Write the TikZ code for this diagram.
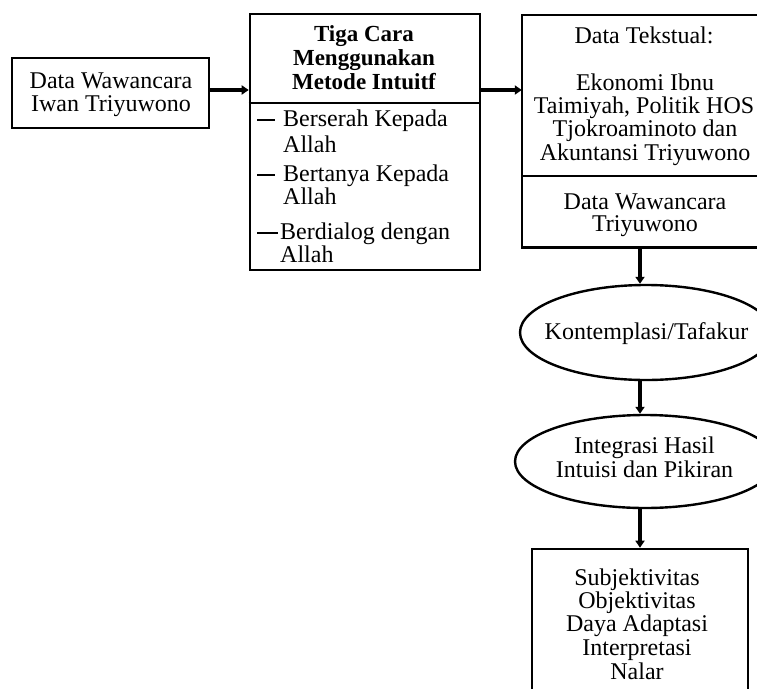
\documentclass[tikz,border=0pt]{standalone}
\usepackage{fontspec}
\setmainfont{Liberation Serif}
\usetikzlibrary{shapes.geometric,arrows.meta}
\begin{document}
\begin{tikzpicture}[x=1pt,y=-1pt,
  box/.style={draw, line width=2.6pt, inner sep=0pt},
  frame/.style={inner sep=0pt},
  oval/.style={draw, ellipse, line width=2.4pt, inner sep=0pt},
  rule/.style={line width=2.6pt},
  arr/.style={line width=3.2pt, -{Triangle[length=7pt,width=9pt]}},
  dashmark/.style={line width=1.8pt},
  ln/.style={font=\fontsize{24}{24}\selectfont, inner sep=0pt, anchor=base},
  lnl/.style={font=\fontsize{24}{24}\selectfont, inner sep=0pt, anchor=base west},
  lnb/.style={font=\fontsize{23}{23}\selectfont\bfseries, inner sep=0pt, anchor=base}]
\useasboundingbox (0,0) rectangle (757,688);
\clip (0,0) rectangle (757,688);

% left box
\node[box, minimum width=197pt, minimum height=70pt] (wi) at (110.5,93) {};
\node[ln] (wi1) at (111,88.5) {Data Wawancara};
\node[ln] (wi2) at (111,111) {Iwan Triyuwono};

% middle box
\node[box, minimum width=230pt, minimum height=256pt] (tc) at (365,142) {};
\draw[rule] (tc.west |- 0,103) -- (tc.east |- 0,103);
\node[lnb] (t1) at (364,41) {Tiga Cara};
\node[lnb] (t2) at (364,65) {Menggunakan};
\node[lnb] (t3) at (364,89) {Metode Intuitf};
\draw[dashmark] (257,120) -- (275,120);
\node[lnl] (i1a) at (283,126) {Berserah Kepada};
\node[lnl] (i1b) at (283,152) {Allah};
\draw[dashmark] (257,175) -- (275,175);
\node[lnl] (i2a) at (283,181) {Bertanya Kepada};
\node[lnl] (i2b) at (283,204.5) {Allah};
\draw[dashmark] (257,233) -- (278,233);
\node[lnl] (i3a) at (280,239) {Berdialog dengan};
\node[lnl] (i3b) at (280,262.5) {Allah};

% right box (its right side lies beyond the picture)
\node[frame, minimum width=244pt, minimum height=232pt] (rb) at (644,131) {};
\draw[rule] (rb.north east) -- (rb.north west) -- (rb.south west) -- (rb.south east);
\draw[rule] (rb.west |- 0,176) -- (rb.east |- 0,176);
\node[ln] (r1) at (644,43) {Data Tekstual:};
\node[ln] (r2) at (645,90) {Ekonomi Ibnu};
\node[ln] (r3) at (644,113) {Taimiyah, Politik HOS};
\node[ln] (r4) at (645,136.5) {Tjokroaminoto dan};
\node[ln] (r5) at (645,160) {Akuntansi Triyuwono};
\node[ln] (r6) at (645,209) {Data Wawancara};
\node[ln] (r7) at (645,231) {Triyuwono};

% ellipses
\node[oval, minimum width=252pt, minimum height=95pt] (e1) at (646,332.5) {};
\node[ln] (e1t) at (646.5,339) {Kontemplasi/Tafakur};
\node[oval, minimum width=260pt, minimum height=93pt] (e2) at (645,461.5) {};
\node[ln] (e2a) at (644.5,453) {Integrasi Hasil};
\node[ln] (e2b) at (644.5,477) {Intuisi dan Pikiran};

% bottom box (its lower side lies beyond the picture)
\node[box, minimum width=216pt, minimum height=150pt] (bb) at (640,624) {};
\node[ln] (b1) at (637,585) {Subjektivitas};
\node[ln] (b2) at (637,608) {Objektivitas};
\node[ln] (b3) at (637,631.5) {Daya Adaptasi};
\node[ln] (b4) at (637,655) {Interpretasi};
\node[ln] (b5) at (637,679) {Nalar};

% connectors
\draw[arr] (wi.east |- 0,90) -- (tc.west |- 0,90);
\draw[arr] (tc.east |- 0,90) -- (rb.west |- 0,90);
\draw[arr] (rb.south -| 640,0) -- (e1.north -| 640,0);
\draw[arr] (e1.south -| 640,0) -- (e2.north -| 640,0);
\draw[arr] (e2.south -| 640,0) -- (bb.north -| 640,0);
\end{tikzpicture}
\end{document}
